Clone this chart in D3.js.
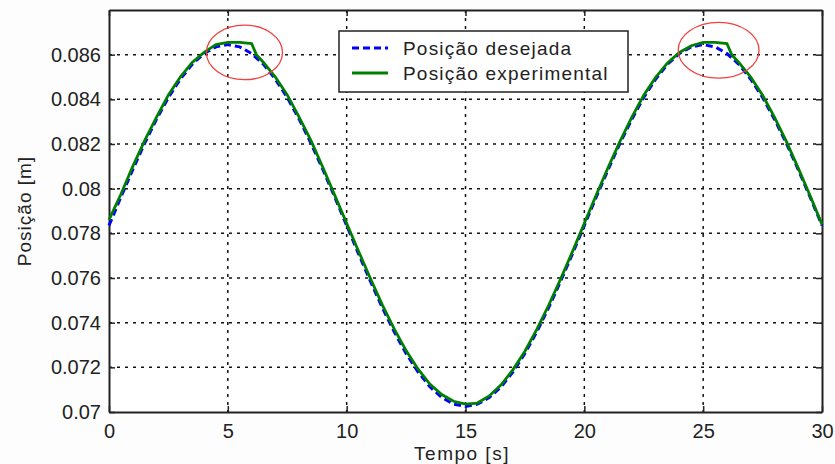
<!DOCTYPE html>
<html>
<head>
<meta charset="utf-8">
<script src="https://cdn.jsdelivr.net/npm/d3@7"></script>
<style>
  body { margin: 0; background: #fdfdfd; }
  text { font-family: "Liberation Sans", Arial, sans-serif; fill: #222; }
</style>
</head>
<body>
<script>
// desired position (sinusoid), every 0.5 s
var desT = d3.range(0, 30.01, 0.5);
var desPos = [
  0.07835, 0.07962, 0.08085, 0.08203, 0.08311, 0.08408, 0.08490, 0.08557, 0.08605, 0.08635,
  0.08645, 0.08635, 0.08605, 0.08557, 0.08490, 0.08408, 0.08311, 0.08203, 0.08085, 0.07962,
  0.07835, 0.07708, 0.07585, 0.07467, 0.07359, 0.07262, 0.07180, 0.07113, 0.07065, 0.07035,
  0.07025, 0.07035, 0.07065, 0.07113, 0.07180, 0.07262, 0.07359, 0.07467, 0.07585, 0.07708,
  0.07835, 0.07962, 0.08085, 0.08203, 0.08311, 0.08408, 0.08490, 0.08557, 0.08605, 0.08635,
  0.08645, 0.08635, 0.08605, 0.08557, 0.08490, 0.08408, 0.08311, 0.08203, 0.08085, 0.07962,
  0.07835
];

// experimental position
var expT = [0, 0.5, 1, 1.5, 2, 2.5, 3, 3.5, 4, 4.5, 5, 5.5, 6, 6.2, 6.5, 7, 7.5, 8, 8.5, 9, 9.5,
  10, 10.5, 11, 11.5, 12, 12.5, 13, 13.5, 14, 14.5, 15, 15.5, 16, 16.5, 17, 17.5, 18, 18.5, 19, 19.5,
  20, 20.5, 21, 21.5, 22, 22.5, 23, 23.5, 24, 24.5, 25, 25.5, 26, 26.2, 26.5, 27, 27.5, 28, 28.5, 29, 29.5, 30];
var expPos = [0.07860, 0.07975, 0.08100, 0.08215, 0.08320, 0.08420, 0.08500, 0.08565, 0.08610, 0.08645,
  0.08655, 0.08655, 0.08650, 0.08600, 0.08565, 0.08500, 0.08420, 0.08320, 0.08215, 0.08095, 0.07970,
  0.07845, 0.07720, 0.07598, 0.07480, 0.07372, 0.07275, 0.07193, 0.07125, 0.07078, 0.07048,
  0.07035, 0.07040, 0.07072, 0.07122, 0.07190, 0.07272, 0.07370, 0.07478, 0.07595, 0.07718,
  0.07845, 0.07972, 0.08095, 0.08212, 0.08320, 0.08418, 0.08498, 0.08563, 0.08610, 0.08640,
  0.08655, 0.08655, 0.08650, 0.08600, 0.08565, 0.08500, 0.08418, 0.08320, 0.08212, 0.08092, 0.07968,
  0.07840];

var xTicks = [0, 5, 10, 15, 20, 25, 30];
var yTicks = [0.07, 0.072, 0.074, 0.076, 0.078, 0.08, 0.082, 0.084, 0.086];
var seriesNames = ['Posição desejada', 'Posição experimental'];

// red circles marking the peaks (centre t, centre pos, radius t, radius pos)
var markT = [5.7, 25.65];
var markPos = [0.0861, 0.0862];
var markRt = [1.6, 1.7];
var markRp = [0.00122, 0.00125];

var width = 835, height = 464,
  margin = { top: 10, right: 13, bottom: 52, left: 109 };

var svg = d3.select('body').append('svg')
  .attr('width', width)
  .attr('height', height);

var w = width - margin.left - margin.right,
  h = height - margin.top - margin.bottom;

var x = d3.scaleLinear().domain([0, 30]).range([0, w]),
  y = d3.scaleLinear().domain([0.07, 0.088]).range([h, 0]);

var g = svg.append('g')
  .attr('transform', 'translate(' + margin.left + ',' + margin.top + ')');

g.append('rect').attr('width', w).attr('height', h).attr('fill', '#fff');

// grid
g.selectAll('.gx').data(xTicks.slice(1, -1)).enter().append('line')
  .attr('x1', x).attr('x2', x).attr('y1', 0).attr('y2', h)
  .attr('stroke', '#111').attr('stroke-width', 1.5).attr('stroke-dasharray', '3,5');
g.selectAll('.gy').data(yTicks.slice(1)).enter().append('line')
  .attr('y1', y).attr('y2', y).attr('x1', 0).attr('x2', w)
  .attr('stroke', '#111').attr('stroke-width', 1.5).attr('stroke-dasharray', '3,5');

// axes
var fmt = function(d) { return d3.format('')(+d.toFixed(3)); };
var xAxis = g.append('g').attr('transform', 'translate(0,' + h + ')')
  .call(d3.axisBottom(x).tickValues(xTicks).tickSizeInner(-6).tickSizeOuter(0).tickPadding(16));
var yAxis = g.append('g')
  .call(d3.axisLeft(y).tickValues(yTicks).tickFormat(fmt).tickSizeInner(-6).tickSizeOuter(0).tickPadding(8));
var xAxisR = g.append('g').attr('transform', 'translate(' + w + ',0)')
  .call(d3.axisRight(y).tickValues(yTicks).tickFormat('').tickSizeInner(-6).tickSizeOuter(0));
var xAxisT = g.append('g')
  .call(d3.axisTop(x).tickValues(xTicks).tickFormat('').tickSizeInner(-6).tickSizeOuter(0));

[xAxis, yAxis, xAxisR, xAxisT].forEach(function(a) {
  a.select('.domain').attr('stroke', '#222').attr('stroke-width', 2);
  a.selectAll('.tick line').attr('stroke', '#222').attr('stroke-width', 1.5);
  a.selectAll('text').style('font-size', '20px').attr('fill', '#333');
});
xAxis.selectAll('text').attr('dy', '0.5em');

// lines
var desLine = d3.line().x(function(d, i) { return x(desT[i]); }).y(function(d) { return y(d); });
var expLine = d3.line().x(function(d, i) { return x(expT[i]); }).y(function(d) { return y(d); });

g.append('path').datum(desPos).attr('d', desLine)
  .attr('fill', 'none').attr('stroke', '#0000ff').attr('stroke-width', 3)
  .attr('stroke-dasharray', '7,4');
g.append('path').datum(expPos).attr('d', expLine)
  .attr('fill', 'none').attr('stroke', '#008000').attr('stroke-width', 2.8);

// red marks
g.selectAll('.mark').data(markT).enter().append('ellipse')
  .attr('cx', function(d) { return x(d); })
  .attr('cy', function(d, i) { return y(markPos[i]); })
  .attr('rx', function(d, i) { return x(markRt[i]) - x(0); })
  .attr('ry', function(d, i) { return y(0.07) - y(0.07 + markRp[i]); })
  .attr('fill', 'none').attr('stroke', '#f04040').attr('stroke-width', 1.3);

// legend
var lg = g.append('g').attr('transform', 'translate(' + (339 - margin.left) + ',' + (31 - margin.top) + ')');
lg.append('rect').attr('width', 289).attr('height', 61)
  .attr('fill', '#fff').attr('stroke', '#222').attr('stroke-width', 1.5);
var lstyles = [{ c: '#0000ff', d: '7,4' }, { c: '#008000', d: null }];
seriesNames.forEach(function(name, i) {
  var yy = 17 + i * 25;
  lg.append('line').attr('x1', 13).attr('x2', 49).attr('y1', yy).attr('y2', yy)
    .attr('stroke', lstyles[i].c).attr('stroke-width', 3)
    .attr('stroke-dasharray', lstyles[i].d);
  lg.append('text').attr('x', 64).attr('y', yy).attr('dy', '0.35em')
    .style('font-size', '19px').style('letter-spacing', '1.2px').text(name);
});

// axis titles
svg.append('text').attr('x', 462).attr('y', 453).attr('text-anchor', 'middle')
  .attr('dy', '0.35em').style('font-size', '19px').style('letter-spacing', '1.5px').text('Tempo [s]');
svg.append('text').attr('transform', 'translate(24,211) rotate(-90)').attr('text-anchor', 'middle')
  .attr('dy', '0.35em').style('font-size', '19px').style('letter-spacing', '1px').text('Posição [m]');
</script>
</body>
</html>
